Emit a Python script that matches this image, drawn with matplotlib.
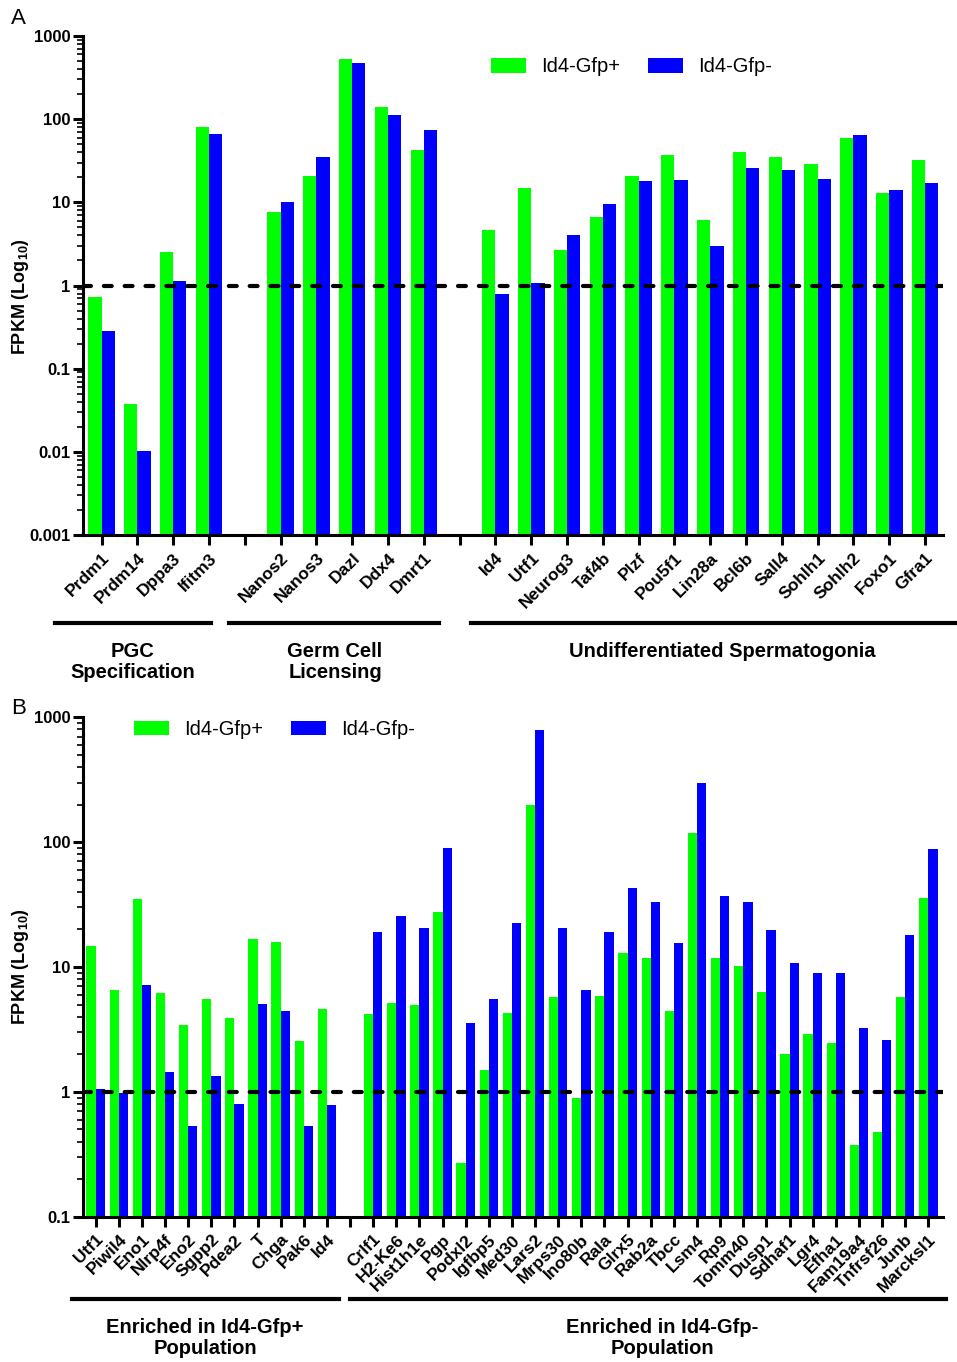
import matplotlib
matplotlib.use("Agg")
import matplotlib.pyplot as plt
from matplotlib.patches import Patch
from matplotlib.lines import Line2D
from matplotlib.ticker import FixedLocator, FuncFormatter, LogLocator, NullFormatter
import numpy as np

plt.rcParams['font.family'] = ['Liberation Sans', 'DejaVu Sans']
plt.rcParams['mathtext.fontset'] = 'custom'
plt.rcParams['mathtext.rm'] = 'Liberation Sans'
plt.rcParams['mathtext.bf'] = 'Liberation Sans:bold'

GREEN = '#00ff00'
BLUE = '#0000ff'

# panel A  ('' = gap between groups)
genes_a = ['Prdm1', 'Prdm14', 'Dppa3', 'Ifitm3', '',
           'Nanos2', 'Nanos3', 'Dazl', 'Ddx4', 'Dmrt1', '',
           'Id4', 'Utf1', 'Neurog3', 'Taf4b', 'Plzf', 'Pou5f1', 'Lin28a',
           'Bcl6b', 'Sall4', 'Sohlh1', 'Sohlh2', 'Foxo1', 'Gfra1']
pos_a = [0.73, 0.038, 2.5, 80, np.nan,
         7.7, 21, 535, 140, 43, np.nan,
         4.7, 14.9, 2.7, 6.7, 20.5, 36.6, 6.1, 39.8, 34.7, 28.8, 59, 13, 32.5]
neg_a = [0.28, 0.0102, 1.13, 66, np.nan,
         10, 35, 480, 113, 74, np.nan,
         0.78, 1.06, 4.1, 9.6, 17.9, 18.4, 2.96, 25.9, 24.7, 19.3, 63.8, 14.2, 17.1]

# panel B
genes_b = ['Utf1', 'Piwil4', 'Eno1', 'Nlrp4f', 'Eno2', 'Sgpp2', 'Pdea2', 'T',
           'Chga', 'Pak6', 'Id4', '',
           'Crlf1', 'H2-Ke6', 'Hist1h1e', 'Pgp', 'Podxl2', 'Igfbp5', 'Med30',
           'Lars2', 'Mrps30', 'Ino80b', 'Rala', 'Glrx5', 'Rab2a', 'Tbcc',
           'Lsm4', 'Rp9', 'Tomm40', 'Dusp1', 'Sdhaf1', 'Lgr4', 'Efha1',
           'Fam19a4', 'Tnfrsf26', 'Junb', 'Marcksl1']
pos_b = [14.8, 6.5, 34.9, 6.17, 3.44, 5.5, 3.87, 16.9, 15.9, 2.56, 4.65, np.nan,
         4.2, 5.13, 4.94, 27.8, 0.267, 1.49, 4.32, 197, 5.7, 0.885, 5.87, 12.9,
         11.7, 4.45, 119, 11.7, 10.2, 6.25, 2.0, 2.93, 2.48, 0.377, 0.48, 5.77, 35.6]
neg_b = [1.05, 0.98, 7.2, 1.43, 0.53, 1.33, 0.80, 5.1, 4.45, 0.53, 0.78, np.nan,
         19.2, 25.4, 20.7, 90.5, 3.55, 5.5, 22.7, 791, 20.7, 6.56, 19.2, 42.7,
         33.2, 15.5, 300, 37, 33.2, 19.7, 10.7, 8.9, 8.9, 3.22, 2.6, 18, 87.7]

W, H = 957, 1362
fig = plt.figure(figsize=(W / 100, H / 100), dpi=100)


def fx(x):
    return x / W


def fy(y):
    return 1 - y / H


def panel(rect, genes, gp, gn, ylim, yticks, xl, width, legend_xy):
    ax = fig.add_axes(rect)
    x = np.arange(len(genes))
    gp = np.array(gp, float)
    gn = np.array(gn, float)
    m = ~np.isnan(gp)
    ax.bar(x[m] - width / 2, gp[m], width, color=GREEN, linewidth=0)
    ax.bar(x[m] + width / 2, gn[m], width, color=BLUE, linewidth=0)
    ax.set_yscale('log')
    ax.set_ylim(*ylim)
    ax.set_xlim(*xl)
    ax.axhline(1, color='black', lw=3, dashes=(1.9, 3.1),
               dash_capstyle='round', zorder=5)
    ax.yaxis.set_major_locator(FixedLocator(yticks))
    ax.yaxis.set_major_formatter(FuncFormatter(lambda v, p: '%g' % v))
    ax.yaxis.set_minor_locator(LogLocator(base=10, subs=np.arange(2, 10)))
    ax.yaxis.set_minor_formatter(NullFormatter())
    ax.set_xticks(x)
    ax.set_xticklabels(genes, rotation=45, ha='right', rotation_mode='anchor',
                       fontsize=12.5, fontweight='bold')
    for s in ['top', 'right']:
        ax.spines[s].set_visible(False)
    for s in ['left', 'bottom']:
        ax.spines[s].set_linewidth(2.2)
    ax.tick_params(axis='x', length=7, width=2.2, pad=4)
    ax.tick_params(axis='y', which='major', length=7, width=2.2, labelsize=12,
                   pad=2)
    ax.tick_params(axis='y', which='minor', length=4, width=1.2)
    for t in ax.get_yticklabels():
        t.set_fontweight('bold')
    ax.set_ylabel('FPKM (Log$_{\\mathbf{10}}$)', fontsize=13, fontweight='bold')
    handles = [Patch(facecolor=GREEN, label='Id4-Gfp+'),
               Patch(facecolor=BLUE, label='Id4-Gfp-')]
    ax.legend(handles=handles, loc='center left', ncol=2, frameon=False,
              bbox_to_anchor=(fx(legend_xy[0]), fy(legend_xy[1])),
              bbox_transform=fig.transFigure, fontsize=14.5, borderpad=0,
              borderaxespad=0, handlelength=1.75, handleheight=0.7,
              handletextpad=0.75, columnspacing=1.35)
    return ax


axA = panel([fx(83), fy(535), fx(943) - fx(83), fy(36) - fy(535)],
            genes_a, pos_a, neg_a, (0.001, 1000),
            [0.001, 0.01, 0.1, 1, 10, 100, 1000], (-0.52, 23.5), 0.37, (491, 67))
axA.yaxis.set_label_coords(-0.06, 0.477)

axB = panel([fx(83), fy(1216.7), fx(943.3) - fx(83), fy(717.3) - fy(1216.7)],
            genes_b, pos_b, neg_b, (0.1, 1000),
            [0.1, 1, 10, 100, 1000], (-0.55, 36.65), 0.4, (134, 730))
axB.yaxis.set_label_coords(-0.06, 0.5)

fig.text(fx(11), fy(19), 'A', fontsize=16, ha='left', va='center')
fig.text(fx(11), fy(708), 'B', fontsize=16, ha='left', va='center')

# group bars and labels
groups = [
    (55, 211, 623, 'PGC\nSpecification', 133),
    (229, 439, 623, 'Germ Cell\nLicensing', 335),
    (471, 957, 623, 'Undifferentiated Spermatogonia', 722),
    (72, 339, 1299, 'Enriched in Id4-Gfp+\nPopulation', 205),
    (350, 946, 1299, 'Enriched in Id4-Gfp-\nPopulation', 662),
]
for x0, x1, yy, txt, xc in groups:
    fig.add_artist(Line2D([fx(x0), fx(x1)], [fy(yy), fy(yy)], color='black',
                          lw=3, transform=fig.transFigure))
    fig.text(fx(xc), fy(yy + 19), txt, ha='center', va='top', fontsize=14.5,
             fontweight='bold', linespacing=1.15)

fig.savefig('out.png', dpi=100)
